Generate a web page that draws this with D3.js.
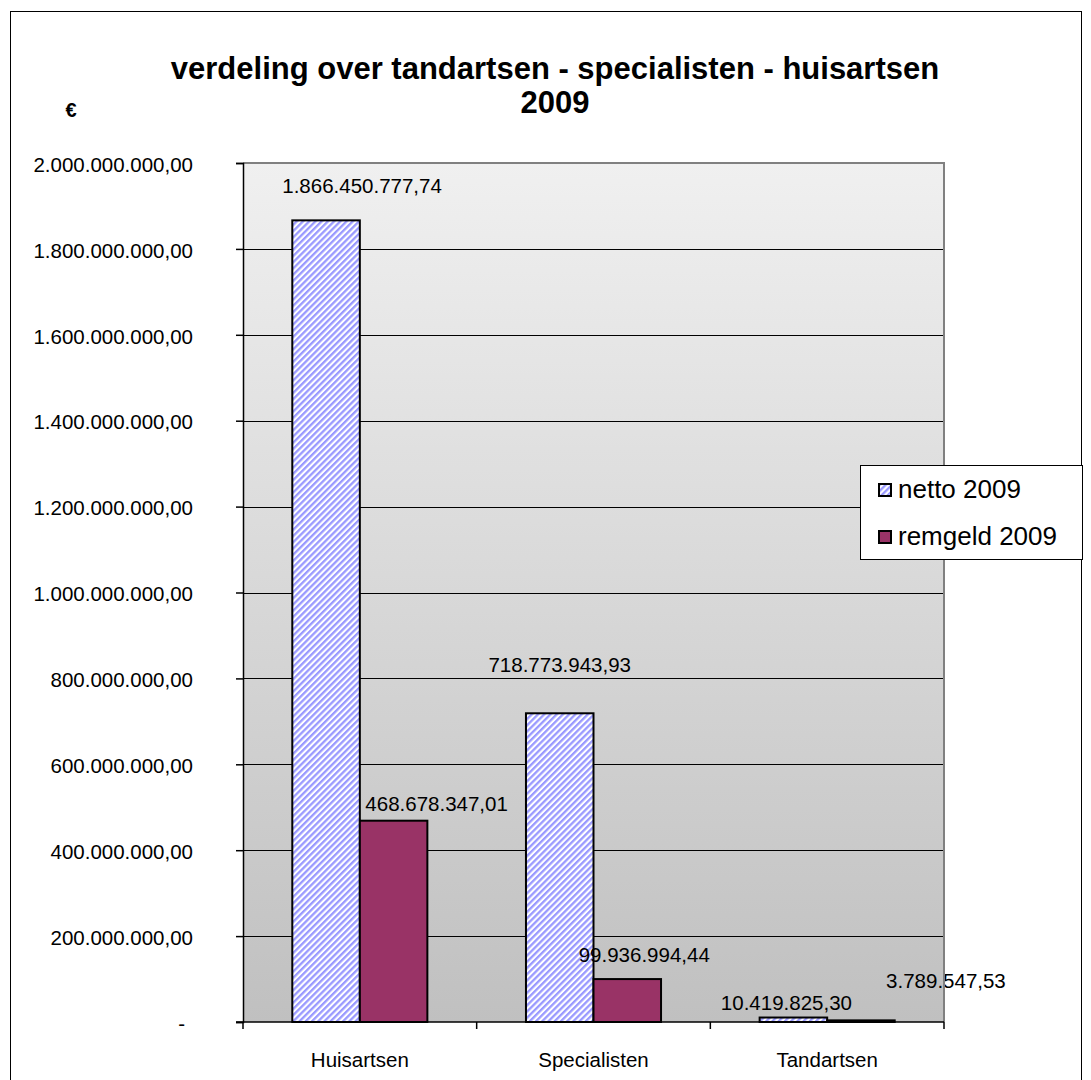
<!DOCTYPE html>
<html>
<head>
<meta charset="utf-8">
<script src="https://cdn.jsdelivr.net/npm/d3@7"></script>
<style>
  html, body { margin: 0; padding: 0; background: #fff; }
  svg text { font-family: "Liberation Sans", Arial, sans-serif; }
</style>
</head>
<body>
<svg id="chart" width="1091" height="1080"></svg>
<script>
// ---- data ----
const categories = ["Huisartsen", "Specialisten", "Tandartsen"];
const seriesNames = ["netto 2009", "remgeld 2009"];
const netto2009 = [1866450777.74, 718773943.93, 10419825.30];
const remgeld2009 = [468678347.01, 99936994.44, 3789547.53];
const yTicks = [0, 200000000, 400000000, 600000000, 800000000, 1000000000, 1200000000, 1400000000, 1600000000, 1800000000, 2000000000];
const titleLines = ["verdeling over tandartsen - specialisten - huisartsen", "2009"];

// label placement offsets (layout only): [dx from bar centre, dy of baseline from bar top]
const labelOffsets = [
  [[36, -27], [43, -10]],
  [[0, -41], [17, -17]],
  [[-7, -8], [85, -32]]
];

const fmt = v => {
  if (v === 0) return "-";
  const s = v.toFixed(2).split(".");
  return s[0].replace(/\B(?=(\d{3})+(?!\d))/g, ".") + "," + s[1];
};

const svg = d3.select("#chart");
const defs = svg.append("defs");

// hatch pattern
const pat = defs.append("pattern")
  .attr("id", "hatch").attr("patternUnits", "userSpaceOnUse")
  .attr("width", 4.4).attr("height", 10)
  .attr("patternTransform", "rotate(45)");
pat.append("rect").attr("width", 4.4).attr("height", 10).attr("fill", "#ffffff");
pat.append("rect").attr("width", 2.3).attr("height", 10).attr("fill", "#9999ff");

// background gradient
const grad = defs.append("linearGradient").attr("id", "bg")
  .attr("x1", 0).attr("y1", 0).attr("x2", 0).attr("y2", 1);
grad.append("stop").attr("offset", "0%").attr("stop-color", "#f0f0f0");
grad.append("stop").attr("offset", "100%").attr("stop-color", "#c0c0c0");

// outer border
svg.append("rect").attr("x", 10.5).attr("y", 11.5).attr("width", 1071).attr("height", 1080)
  .attr("fill", "#fff").attr("stroke", "#000").attr("stroke-width", 1);

const plot = { left: 243, top: 163, right: 944, bottom: 1022 };

const x0 = d3.scaleBand().domain(categories).range([plot.left, plot.right]).paddingInner(0).paddingOuter(0);
const x1 = d3.scaleBand().domain(seriesNames).range([0, x0.bandwidth()]).paddingInner(0).paddingOuter(0.73);
const y = d3.scaleLinear().domain([0, 2000000000]).range([plot.bottom, plot.top]);

// plot background
svg.append("rect").attr("x", plot.left).attr("y", plot.top)
  .attr("width", plot.right - plot.left).attr("height", plot.bottom - plot.top)
  .attr("fill", "url(#bg)");

// gridlines
svg.append("g").selectAll("line").data(yTicks.filter(t => t > 0 && t < 2000000000)).join("line")
  .attr("x1", plot.left).attr("x2", plot.right)
  .attr("y1", d => Math.round(y(d)) + 0.5).attr("y2", d => Math.round(y(d)) + 0.5)
  .attr("stroke", "#000").attr("stroke-width", 1);

// bars
const series = [netto2009, remgeld2009];
const fills = ["url(#hatch)", "#993366"];
const barData = [];
categories.forEach((c, i) => {
  seriesNames.forEach((s, j) => {
    barData.push({ cat: c, ser: s, value: series[j][i], fill: fills[j], i, j });
  });
});
svg.append("g").selectAll("rect").data(barData).join("rect")
  .attr("x", d => x0(d.cat) + x1(d.ser))
  .attr("y", d => y(d.value))
  .attr("width", x1.bandwidth())
  .attr("height", d => y(0) - y(d.value))
  .attr("fill", d => d.fill)
  .attr("stroke", "#000").attr("stroke-width", 2);

// data labels
svg.append("g").selectAll("text").data(barData).join("text")
  .attr("x", d => x0(d.cat) + x1(d.ser) + x1.bandwidth() / 2 + labelOffsets[d.i][d.j][0])
  .attr("y", d => y(d.value) + labelOffsets[d.i][d.j][1])
  .attr("text-anchor", "middle").attr("font-size", 20.5).attr("fill", "#000")
  .text(d => fmt(d.value));

// plot border (top + right, gray)
svg.append("path")
  .attr("d", `M${plot.left},${plot.top}H${plot.right}V${plot.bottom}`)
  .attr("fill", "none").attr("stroke", "#808080").attr("stroke-width", 2);

// y axis
const yAxis = d3.axisLeft(y).tickValues(yTicks).tickSize(7).tickPadding(43).tickFormat(fmt);
const gy = svg.append("g").attr("transform", `translate(${plot.left},0)`).call(yAxis);
gy.select(".domain").attr("stroke", "#000").attr("stroke-width", 1.5);
gy.selectAll(".tick line").attr("stroke", "#000").attr("stroke-width", 1.5);
gy.selectAll(".tick text").attr("font-size", 20.5).attr("fill", "#000")
  .attr("font-family", "Liberation Sans, Arial, sans-serif")
  .attr("dy", "0.4em")
  .filter(d => d === 0).attr("dx", -8);

// x axis
const xAxis = d3.axisBottom(x0).tickSize(0).tickPadding(30);
const gx = svg.append("g").attr("transform", `translate(0,${plot.bottom})`).call(xAxis);
gx.select(".domain").remove();
gx.selectAll(".tick text").attr("font-size", 20.5).attr("fill", "#000")
  .attr("font-family", "Liberation Sans, Arial, sans-serif");
svg.append("line").attr("x1", plot.left - 7).attr("x2", plot.right)
  .attr("y1", plot.bottom).attr("y2", plot.bottom).attr("stroke", "#000").attr("stroke-width", 1.5);
const bounds = categories.map(c => x0(c)).concat([plot.right]);
svg.append("g").selectAll("line").data(bounds).join("line")
  .attr("x1", d => d).attr("x2", d => d)
  .attr("y1", plot.bottom).attr("y2", plot.bottom + 7)
  .attr("stroke", "#000").attr("stroke-width", 1.5);

// title
svg.append("text").attr("x", 555).attr("y", 79).attr("text-anchor", "middle")
  .attr("font-size", 31).attr("font-weight", "bold").text(titleLines[0]);
svg.append("text").attr("x", 555).attr("y", 113).attr("text-anchor", "middle")
  .attr("font-size", 31).attr("font-weight", "bold").text(titleLines[1]);
svg.append("text").attr("x", 71).attr("y", 117).attr("text-anchor", "middle")
  .attr("font-size", 20).attr("font-weight", "bold").text("€");

// legend
const lg = svg.append("g");
lg.append("rect").attr("x", 860.5).attr("y", 465.5).attr("width", 222).attr("height", 94)
  .attr("fill", "#fff").attr("stroke", "#000").attr("stroke-width", 1);
seriesNames.forEach((s, j) => {
  const yy = 489 + j * 47;
  lg.append("rect").attr("x", 879).attr("y", yy - 5).attr("width", 12).attr("height", 12)
    .attr("fill", fills[j]).attr("stroke", "#000").attr("stroke-width", 2);
  lg.append("text").attr("x", 898).attr("y", yy + 9).attr("font-size", 26).attr("fill", "#000").text(s);
});
</script>
</body>
</html>
